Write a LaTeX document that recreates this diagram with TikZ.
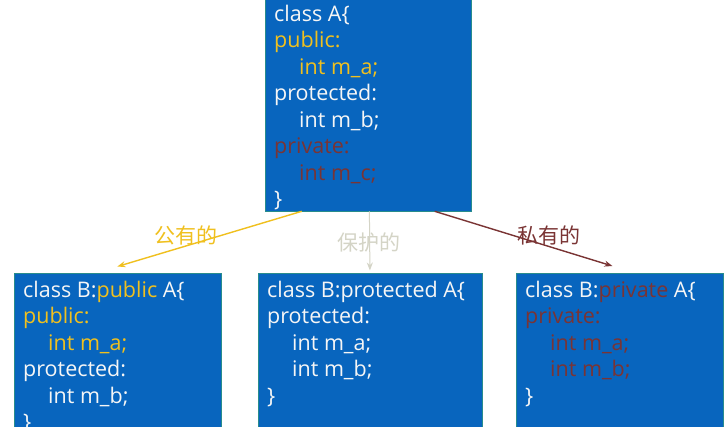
\documentclass[tikz,border=0pt]{standalone}
\usepackage{fontspec}
\setmainfont{Open Sans}
\newfontfamily\cjk{Noto Sans CJK SC}
\usetikzlibrary{arrows.meta,calc}
\definecolor{boxblue}{RGB}{8,101,190}
\definecolor{boxedge}{RGB}{40,140,140}
\definecolor{pubyellow}{RGB}{240,192,30}
\definecolor{privbrown}{RGB}{122,52,52}
\definecolor{protgray}{RGB}{212,212,198}
\definecolor{codewhite}{RGB}{246,246,246}
\newcommand\codeblock[1]{\vtop{\baselineskip=26.5pt\lineskiplimit=-100pt\halign{##\hfil\cr#1\crcr}}}
\newcommand\ind{\hspace*{25pt}}
\newcommand\yel[1]{\textcolor{pubyellow}{#1}}
\newcommand\brn[1]{\textcolor{privbrown}{#1}}
\begin{document}
\begin{tikzpicture}[x=1pt,y=-1pt,
  classbox/.style={draw=boxedge, line width=0.8pt, fill=boxblue, anchor=north west,
    inner sep=0pt, minimum height=#1},
  code/.style={anchor=base west, inner sep=0pt, text=codewhite, font=\fontsize{21.5}{26.5}\selectfont},
  lbl/.style={font=\cjk\fontsize{21}{24}\selectfont, inner sep=0pt},
  conn/.style={line width=1.4pt, -{Stealth[length=8pt,width=6pt]}}]
\useasboundingbox (0,0) rectangle (727,426);
\clip (0,0) rectangle (727,426);
\fill[white] (0,0) rectangle (727,426);

% boxes
\node[classbox=215.5pt, minimum width=206pt] (A) at (264.5,-5) {};
\node[classbox=170pt, minimum width=207pt] (B1) at (13.5,272.5) {};
\node[classbox=170pt, minimum width=224pt] (B2) at (257.5,272.5) {};
\node[classbox=170pt, minimum width=207pt] (B3) at (515.5,273) {};

% code texts
\node[code] (tA) at (274,21) {\codeblock{class A\{\cr
\yel{public:}\cr
\ind\yel{int m\_a;}\cr
protected:\cr
\ind int m\_b;\cr
\brn{private:}\cr
\ind\brn{int m\_c;}\cr
\}}};
\node[code] (t1) at (23,297) {\codeblock{class B:\yel{public} A\{\cr
\yel{public:}\cr
\ind\yel{int m\_a;}\cr
protected:\cr
\ind int m\_b;\cr
\}}};
\node[code] (t2) at (267,297) {\codeblock{class B:protected A\{\cr
protected:\cr
\ind int m\_a;\cr
\ind int m\_b;\cr
\}}};
\node[code] (t3) at (525,297) {\codeblock{class B:\brn{private} A\{\cr
\brn{private:}\cr
\ind\brn{int m\_a;}\cr
\ind\brn{int m\_b;}\cr
\}}};

% connectors
\draw[conn, pubyellow] ($(A.south west)!0.18!(A.south east)$) -- ($(B1.north)+(0,-6)$);
\draw[conn, protgray, line width=1pt] ($(A.south)+(1.5,0)$) -- ($(B2.north)+(0,-2)$);
\draw[conn, privbrown] ($(A.south west)!0.823!(A.south east)$) -- ($(B3.north)+(-7,-7)$);

% labels
\node[lbl, text=pubyellow] (l1) at (186,235) {公有的};
\node[lbl, text=protgray] (l2) at (369,242) {保护的};
\node[lbl, text=privbrown] (l3) at (549,235) {私有的};
\end{tikzpicture}
\end{document}
